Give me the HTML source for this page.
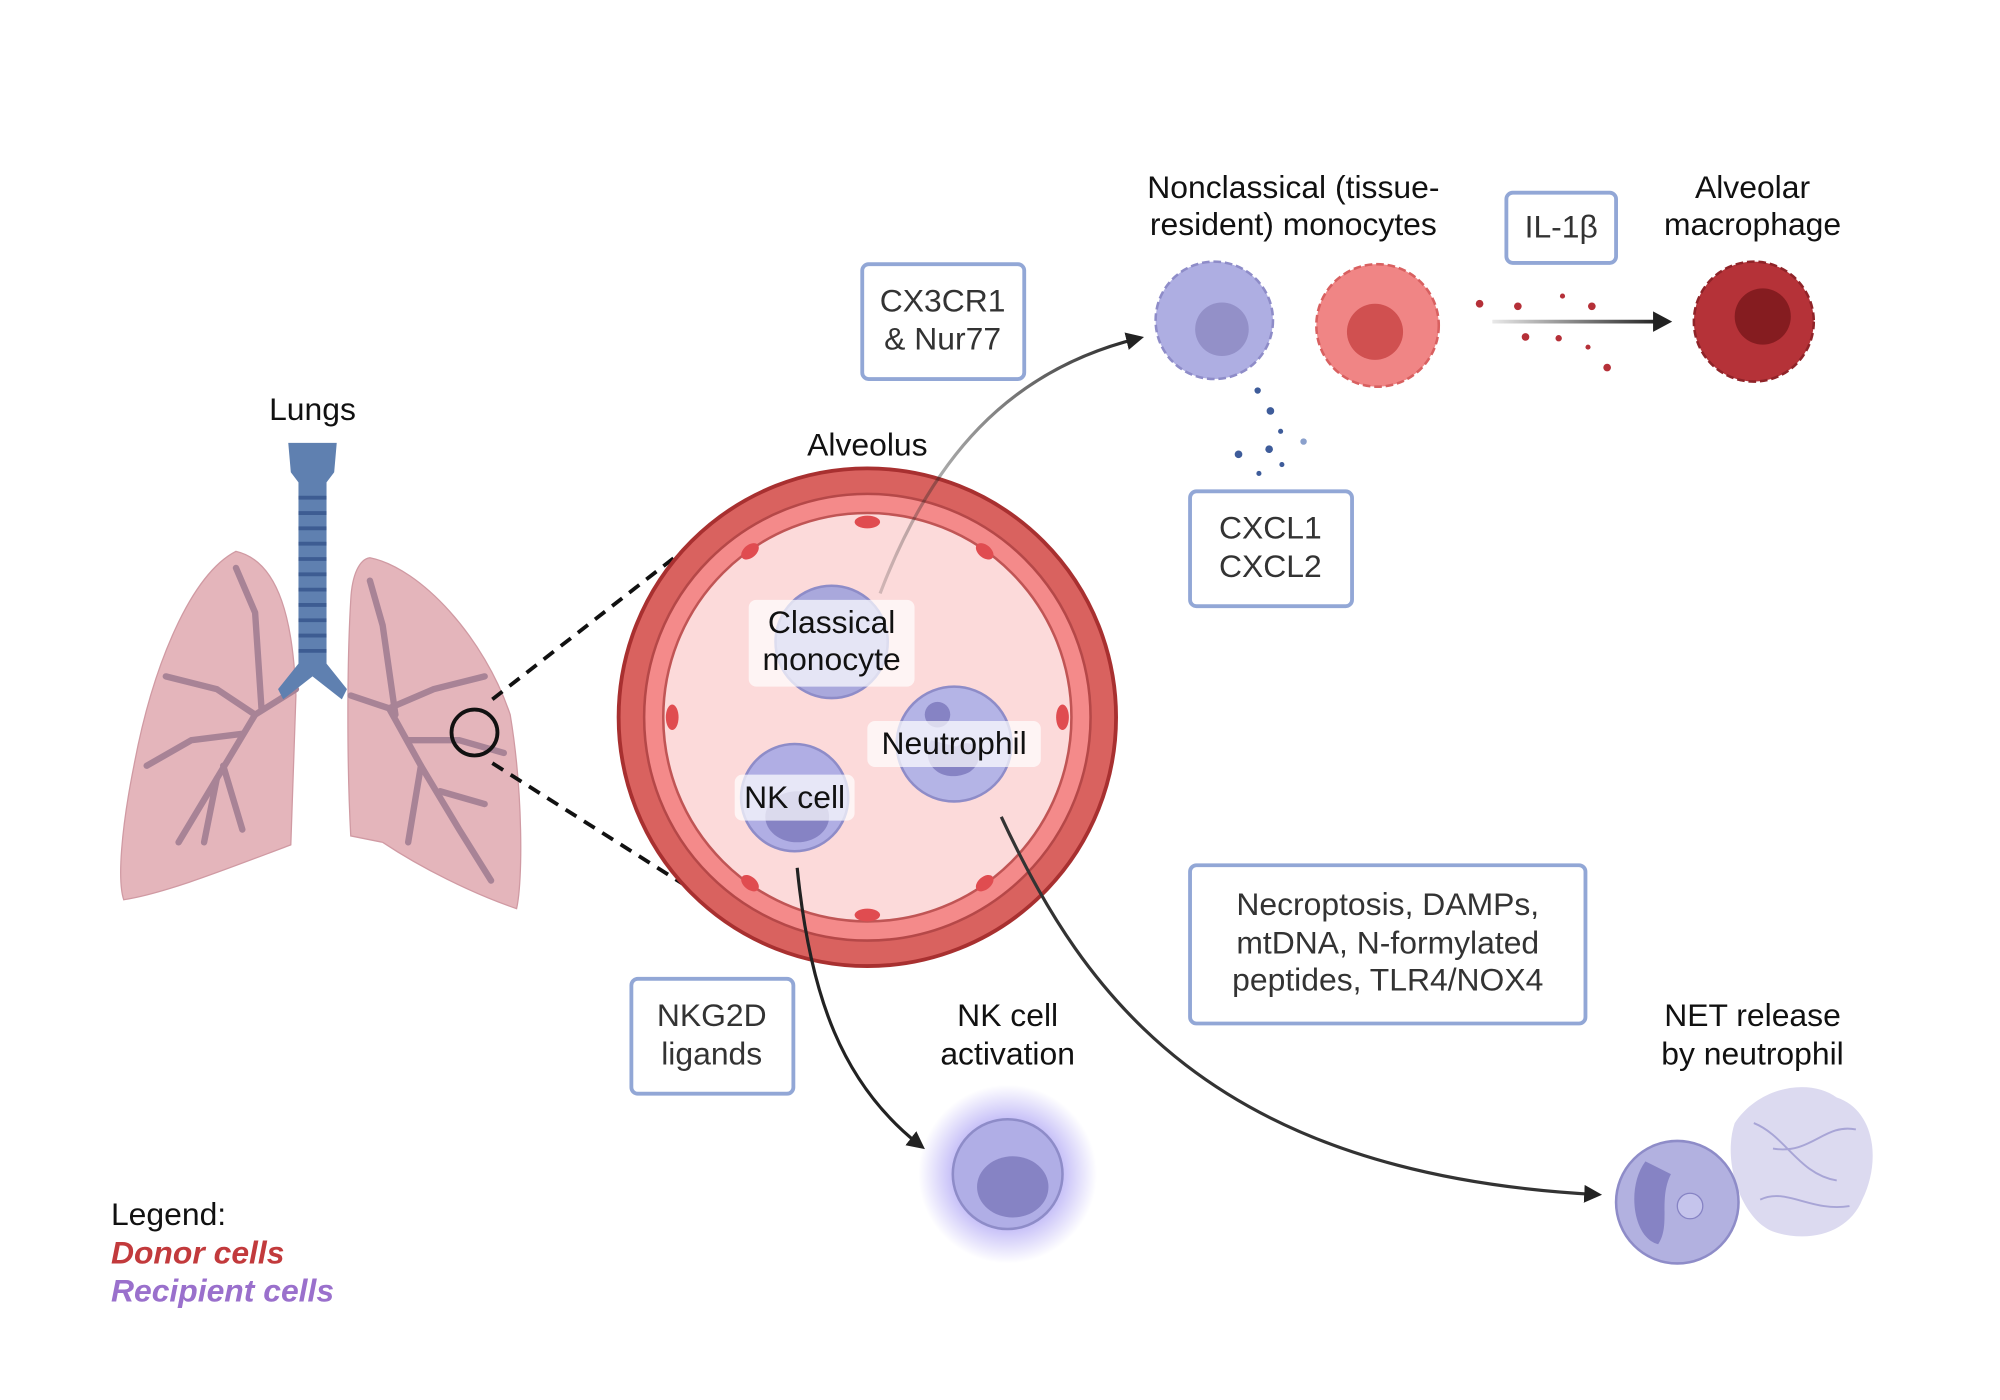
<!DOCTYPE html>
<html><head><meta charset="utf-8"><style>
html,body{margin:0;padding:0;background:#fff;width:2000px;height:1400px;overflow:hidden}
svg{display:block}
text{font-family:"Liberation Sans",sans-serif;fill:#111}
</style></head><body>
<svg width="2000" height="1400" viewBox="0 0 1568 1097" preserveAspectRatio="none" xmlns="http://www.w3.org/2000/svg">
<defs>
<marker id="ah2" markerWidth="14" markerHeight="14" refX="10" refY="7" orient="auto" markerUnits="userSpaceOnUse"><path d="M0,0 L14,7 L0,14 z" fill="#222"/></marker>
<radialGradient id="glow"><stop offset="0.6" stop-color="#8a7cf0" stop-opacity="0.5"/><stop offset="1" stop-color="#8a7cf0" stop-opacity="0"/></radialGradient>
<linearGradient id="fade" x1="0" x2="1"><stop offset="0" stop-color="#222" stop-opacity="0.2"/><stop offset="1" stop-color="#222"/></linearGradient>
<linearGradient id="fadeh" gradientUnits="userSpaceOnUse" x1="1170" y1="0" x2="1300" y2="0"><stop offset="0" stop-color="#222" stop-opacity="0.1"/><stop offset="1" stop-color="#222"/></linearGradient>
</defs>
<text x="245" y="329" font-size="25" text-anchor="middle">Lungs</text>
<path d="M185,432 C150,450 120,520 105,600 C95,650 92,690 97,705 C130,700 180,680 228,662 L232,545 C230,490 220,440 185,432 z" fill="#e4b5bb" stroke="#d09aa3"/>
<path d="M290,437 C330,445 380,500 400,560 C410,620 410,690 405,712 C370,700 330,680 300,660 L275,655 C272,600 272,520 275,470 C276,450 282,438 290,437 z" fill="#e4b5bb" stroke="#d09aa3"/>
<g stroke="#a88396" stroke-width="5" fill="none" stroke-linecap="round">
<path d="M232,540 L200,560 L170,610 L140,660"/><path d="M200,560 L170,540 L130,530"/><path d="M190,575 L150,580 L115,600"/><path d="M205,555 L200,480 L185,445"/><path d="M175,600 L190,650"/><path d="M170,610 L160,660"/>
<path d="M275,545 L305,555 L330,600 L360,650 L385,690"/><path d="M305,555 L340,540 L380,530"/><path d="M310,560 L300,490 L290,455"/><path d="M320,580 L360,580 L395,590"/><path d="M330,600 L320,660"/><path d="M345,620 L380,630"/>
</g>
<path d="M226,347 L264,347 L262,370 L256,378 L256,520 L272,540 L268,548 L245,530 L222,548 L218,540 L234,520 L234,378 L228,370 z" fill="#5f80b0"/>
<g stroke="#3d5c92" stroke-width="3"><line x1="234" y1="390" x2="256" y2="390"/><line x1="234" y1="402" x2="256" y2="402"/><line x1="234" y1="414" x2="256" y2="414"/><line x1="234" y1="426" x2="256" y2="426"/><line x1="234" y1="438" x2="256" y2="438"/><line x1="234" y1="450" x2="256" y2="450"/><line x1="234" y1="462" x2="256" y2="462"/><line x1="234" y1="474" x2="256" y2="474"/><line x1="234" y1="486" x2="256" y2="486"/><line x1="234" y1="498" x2="256" y2="498"/><line x1="234" y1="510" x2="256" y2="510"/></g>
<circle cx="372" cy="574" r="18" fill="none" stroke="#111" stroke-width="3"/>
<line x1="386" y1="548" x2="535" y2="432" stroke="#111" stroke-width="3" stroke-dasharray="10,7"/>
<line x1="386" y1="598" x2="555" y2="705" stroke="#111" stroke-width="3" stroke-dasharray="10,7"/>
<text x="680" y="357" font-size="25" text-anchor="middle">Alveolus</text>
<circle cx="680" cy="562" r="195" fill="#d9625f" stroke="#a83030" stroke-width="3"/>
<circle cx="680" cy="562" r="175" fill="#f48a8a" stroke="#b54848" stroke-width="2"/>
<circle cx="680" cy="562" r="160" fill="#fcdada" stroke="#c05555" stroke-width="2"/>
<g fill="#e04c50"><ellipse cx="680" cy="409" rx="10" ry="5"/><ellipse cx="680" cy="717" rx="10" ry="5"/><ellipse cx="527" cy="562" rx="5" ry="10"/><ellipse cx="833" cy="562" rx="5" ry="10"/><ellipse cx="772" cy="432" rx="8" ry="5" transform="rotate(40 772 432)"/><ellipse cx="588" cy="432" rx="8" ry="5" transform="rotate(-40 588 432)"/><ellipse cx="772" cy="692" rx="8" ry="5" transform="rotate(-40 772 692)"/><ellipse cx="588" cy="692" rx="8" ry="5" transform="rotate(40 588 692)"/></g>
<circle cx="652" cy="503" r="44" fill="#a9a8dc" stroke="#8e8cc8" stroke-width="2"/>
<circle cx="748" cy="583" r="45" fill="#b4b4e6" stroke="#8e8cc8" stroke-width="2"/><path d="M730,580 C720,600 740,615 760,605 C775,595 765,575 750,585 z" fill="#8683c4"/><circle cx="735" cy="560" r="10" fill="#8683c4"/>
<circle cx="623" cy="625" r="42" fill="#b0aee4" stroke="#8e8cc8" stroke-width="2"/><ellipse cx="625" cy="640" rx="25" ry="20" fill="#8683c4"/>
<rect x="587" y="470" width="130" height="68" rx="6" fill="#fff" fill-opacity="0.7"/>
<text x="652" y="496" font-size="25" text-anchor="middle">Classical</text><text x="652" y="525" font-size="25" text-anchor="middle">monocyte</text>
<rect x="680" y="565" width="136" height="36" rx="6" fill="#fff" fill-opacity="0.7"/><text x="748" y="591" font-size="25" text-anchor="middle">Neutrophil</text>
<rect x="576" y="607" width="94" height="36" rx="6" fill="#fff" fill-opacity="0.7"/><text x="623" y="633" font-size="25" text-anchor="middle">NK cell</text>
<path d="M690,465 C730,360 790,290 893,265" fill="none" stroke="url(#fade)" stroke-width="2.5" marker-end="url(#ah2)"/>
<path d="M625,680 C635,780 660,850 722,898" fill="none" stroke="#222" stroke-width="2.5" marker-end="url(#ah2)"/>
<path d="M785,640 C850,780 950,920 1252,936" fill="none" stroke="#333" stroke-width="2.5" marker-end="url(#ah2)"/>
<g fill="#fff" stroke="#92a7d6" stroke-width="3">
<rect x="676" y="207" width="127" height="90" rx="5"/><rect x="933" y="385" width="127" height="90" rx="5"/><rect x="1181" y="151" width="86" height="55" rx="5"/><rect x="933" y="678" width="310" height="124" rx="5"/><rect x="495" y="767" width="127" height="90" rx="5"/></g>
<g font-size="25" text-anchor="middle">
<text x="739" y="244" style="fill:#333">CX3CR1</text><text x="739" y="274" style="fill:#333">&amp; Nur77</text>
<text x="996" y="422" style="fill:#333">CXCL1</text><text x="996" y="452" style="fill:#333">CXCL2</text>
<text x="1224" y="186" style="fill:#333">IL-1β</text>
<text x="1088" y="717" style="fill:#333">Necroptosis, DAMPs,</text><text x="1088" y="747" style="fill:#333">mtDNA, N-formylated</text><text x="1088" y="776" style="fill:#333">peptides, TLR4/NOX4</text>
<text x="558" y="804" style="fill:#333">NKG2D</text><text x="558" y="834" style="fill:#333">ligands</text>
</g>
<g font-size="25" text-anchor="middle">
<text x="1014" y="155">Nonclassical (tissue-</text><text x="1014" y="184">resident) monocytes</text>
<text x="1374" y="155">Alveolar</text><text x="1374" y="184">macrophage</text>
<text x="790" y="804">NK cell</text><text x="790" y="834">activation</text>
<text x="1374" y="804">NET release</text><text x="1374" y="834">by neutrophil</text>
</g>
<circle cx="952" cy="251" r="46" fill="#aeaee2" stroke="#8e8cc8" stroke-width="2" stroke-dasharray="6,3"/><circle cx="958" cy="258" r="21" fill="#9390c8"/>
<circle cx="1080" cy="255" r="48" fill="#f08585" stroke="#d86060" stroke-width="2" stroke-dasharray="6,3"/><circle cx="1078" cy="260" r="22" fill="#d05050"/>
<circle cx="1375" cy="252" r="47" fill="#b53238" stroke="#8f2328" stroke-width="2" stroke-dasharray="6,3"/><circle cx="1382" cy="248" r="22" fill="#851c20"/>
<path d="M1170,252 L1300,252" stroke="url(#fadeh)" stroke-width="3" fill="none"/>
<path d="M1296,244 L1311,252 L1296,260 z" fill="#222"/>
<g fill="#b53038"><circle cx="1160" cy="238" r="3"/><circle cx="1190" cy="240" r="3"/><circle cx="1248" cy="240" r="3"/><circle cx="1196" cy="264" r="3"/><circle cx="1260" cy="288" r="3"/><circle cx="1225" cy="232" r="2"/><circle cx="1222" cy="265" r="2.5"/><circle cx="1245" cy="272" r="2"/></g>
<g fill="#3e5c9a"><circle cx="986" cy="306" r="2.5"/><circle cx="996" cy="322" r="3"/><circle cx="1004" cy="338" r="2"/><circle cx="995" cy="352" r="3"/><circle cx="971" cy="356" r="3"/><circle cx="1005" cy="364" r="2"/><circle cx="987" cy="371" r="2"/><circle cx="1022" cy="346" r="2.5" fill="#8aa0cc"/></g>
<circle cx="790" cy="920" r="70" fill="url(#glow)"/>
<circle cx="790" cy="920" r="43" fill="#b0aee6" stroke="#8e8cc8" stroke-width="2"/><ellipse cx="794" cy="930" rx="28" ry="24" fill="#8683c4"/>
<path d="M1360,880 C1380,850 1420,845 1440,860 C1470,870 1475,910 1460,940 C1450,965 1420,975 1390,965 C1365,955 1350,910 1360,880 z" fill="#dcdaf0"/>
<path d="M1375,880 C1400,890 1410,920 1440,925 M1380,940 C1400,930 1420,950 1450,945 M1390,900 C1420,905 1430,880 1455,885" fill="none" stroke="#a8a5d6" stroke-width="1.5"/>
<circle cx="1315" cy="942" r="48" fill="#b2b1e0" stroke="#8e8cc8" stroke-width="2"/>
<path d="M1290,910 C1275,930 1280,970 1300,975 C1310,960 1300,940 1310,920 z" fill="#8683c4"/>
<circle cx="1325" cy="945" r="10" fill="#c5c4ec" stroke="#8683c4"/>
<text x="87" y="960" font-size="25">Legend:</text>
<text x="87" y="990" font-size="25" font-weight="bold" font-style="italic" style="fill:#c23a3c">Donor cells</text>
<text x="87" y="1020" font-size="25" font-weight="bold" font-style="italic" style="fill:#9a70cc">Recipient cells</text>
</svg>
</body></html>
